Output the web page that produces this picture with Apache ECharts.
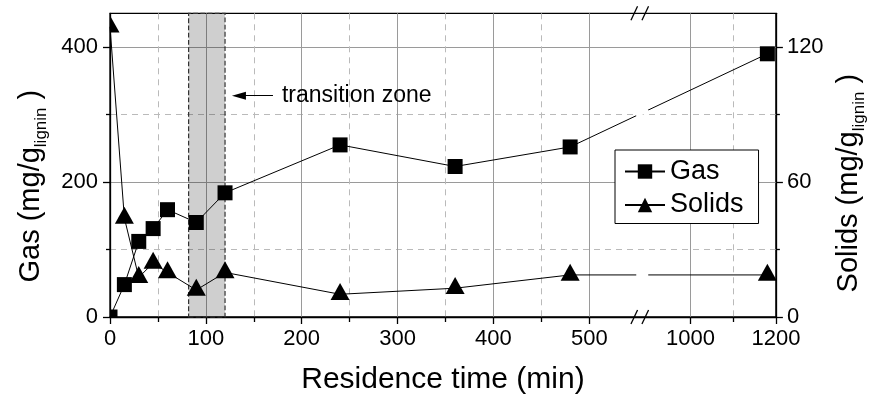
<!DOCTYPE html>
<html><head><meta charset="utf-8">
<script src="https://cdn.jsdelivr.net/npm/echarts@6/dist/echarts.min.js"></script>
<style>html,body{margin:0;padding:0;background:#fff}#c{width:876px;height:400px}</style>
</head><body><div id="c"></div>
<script>
// ---------------- data ----------------
const timeMin      = [0, 15, 30, 45, 60, 90, 120, 240, 360, 480, 1180];
const gasValues    = [0, 48, 112, 131, 159, 140, 184, 255, 223, 252, 390];
const solidsValues = [129, 44, 17.6, 24, 19.8, 12, 19.8, 10.1, 12.8, 18.7, 18.7];

const xMajorTicks      = [0, 100, 200, 300, 400, 500, 1000, 1200];
const xMinorTicks      = [50, 150, 250, 350, 450, 1100];
const gasMajorTicks    = [0, 200, 400];
const gasMinorTicks    = [100, 300];
const solidsMajorTicks = [0, 60, 120];
const solidsMinorTicks = [30, 90];

const gasRange    = [0, 450];
const solidsRange = [0, 135];
const timeRange   = [0, 1200];

const transitionZone = [82, 120];
const annotationText = 'transition zone';
const annotationFrom = [170, 328];   // (min, gas units)
const annotationTo   = [134.5, 328];

// axis break: 0..550 normal, 875..1200 compressed
const breakStart = 550, breakEnd = 875, rightScale = 0.445;

// ---------------- helpers ----------------
const T = x => x <= breakStart ? x : breakStart + (x - breakEnd) * rightScale;
const Tinv = v => v <= breakStart + 1e-6 ? v : breakEnd + (v - breakStart) / rightScale;
const FONT = '"Liberation Sans", Arial, Helvetica, sans-serif';
const xMax = T(timeRange[1]);
const GRID_SOLID = '#9a9a9a', GRID_DASH = '#bababa';

function gasData() {
  return timeMin.map((x, i) => {
    const item = { value: [T(x), gasValues[i]] };
    if (x === timeRange[0] && gasValues[i] === gasRange[0]) {
      item.symbol = 'rect'; item.symbolSize = [7.5, 7.5]; item.symbolOffset = [3.75, -3.75];
    }
    return item;
  });
}
function solidsData() {
  return timeMin.map((x, i) => {
    const item = { value: [T(x), solidsValues[i]] };
    if (x === timeRange[0]) {
      item.symbol = 'path://M0,0 L1,1 L0,1 Z'; item.symbolSize = [9.5, 17]; item.symbolOffset = [4.75, -2.8];
    }
    return item;
  });
}

const chart = echarts.init(document.getElementById('c'), null, { renderer: 'canvas' });

const tickStyle = { color: '#000', width: 1.3 };
const nameRich = {
  m: { fontSize: 29, lineHeight: 38, fontFamily: FONT, color: '#000' },
  s: { fontSize: 17, lineHeight: 17, fontFamily: FONT, color: '#000', verticalAlign: 'bottom' }
};

const option = {
  animation: false,
  backgroundColor: '#fff',
  textStyle: { fontFamily: FONT },
  grid: { left: 110, right: 99.3, top: 13.3, bottom: 80, show: true, borderColor: '#000', borderWidth: 1.3, containLabel: false },
  legend: {
    data: ['Gas', 'Solids'], orient: 'vertical', left: 615, top: 150,
    itemWidth: 40, itemHeight: 18, itemGap: 6.5,
    textStyle: { fontSize: 27, color: '#000', fontFamily: FONT },
    borderColor: '#000', borderWidth: 1, backgroundColor: '#fff', padding: [8, 15, 5, 9], borderRadius: 0
  },
  xAxis: [
    {
      type: 'value', min: 0, max: xMax, position: 'bottom',
      axisLine: { show: true, onZero: false, lineStyle: { color: '#000', width: 1.3 } },
      axisTick: { show: true, customValues: xMajorTicks.map(T), length: 7, lineStyle: tickStyle },
      axisLabel: { customValues: xMajorTicks.map(T), formatter: v => String(Math.round(Tinv(v))),
                   fontSize: 22, color: '#000', margin: 11, fontFamily: FONT },
      splitLine: { show: true, lineStyle: { color: GRID_SOLID, width: 1 } },
      name: 'Residence time (min)', nameLocation: 'middle', nameGap: 48,
      nameTextStyle: { fontSize: 30, color: '#000', fontFamily: FONT }
    },
    {
      type: 'value', min: 0, max: xMax, position: 'bottom',
      axisLine: { show: false, onZero: false },
      axisTick: { show: true, customValues: xMinorTicks.map(T), length: 5, lineStyle: tickStyle },
      axisLabel: { show: false },
      splitLine: { show: true, lineStyle: { color: GRID_DASH, width: 1, type: [6, 5] } }
    }
  ],
  yAxis: [
    {
      type: 'value', min: gasRange[0], max: gasRange[1], position: 'left',
      axisLine: { show: true, onZero: false, lineStyle: { color: '#000', width: 1.3 } },
      axisTick: { show: true, customValues: gasMajorTicks, length: 7, lineStyle: tickStyle },
      axisLabel: { customValues: gasMajorTicks, fontSize: 22, color: '#000', margin: 12, fontFamily: FONT },
      splitLine: { show: true, lineStyle: { color: GRID_SOLID, width: 1 } },
      name: '{m|Gas (mg/g}{s|lignin}{m| )}', nameLocation: 'middle', nameGap: 60,
      nameTextStyle: { rich: nameRich, padding: [0, 42, 0, 0] }
    },
    {
      type: 'value', min: solidsRange[0], max: solidsRange[1], position: 'right',
      axisLine: { show: true, onZero: false, lineStyle: { color: '#000', width: 1.3 } },
      axisTick: { show: true, customValues: solidsMajorTicks, length: 7, lineStyle: tickStyle },
      axisLabel: { customValues: solidsMajorTicks, fontSize: 22, color: '#000', margin: 11, fontFamily: FONT },
      splitLine: { show: false },
      name: '{m|Solids (mg/g}{s|lignin}{m| )}', nameLocation: 'middle', nameGap: 53,
      nameTextStyle: { rich: nameRich, padding: [0, 36, 0, 0] }
    },
    {
      type: 'value', min: gasRange[0], max: gasRange[1], position: 'left',
      axisLine: { show: false, onZero: false },
      axisTick: { show: true, customValues: gasMinorTicks, length: 4, lineStyle: tickStyle },
      axisLabel: { show: false },
      splitLine: { show: true, lineStyle: { color: GRID_DASH, width: 1, type: [6, 5] } }
    },
    {
      type: 'value', min: solidsRange[0], max: solidsRange[1], position: 'right',
      axisLine: { show: false, onZero: false },
      axisTick: { show: true, customValues: solidsMinorTicks, length: 4, lineStyle: tickStyle },
      axisLabel: { show: false },
      splitLine: { show: false }
    }
  ],
  series: [
    {
      name: 'Gas', type: 'line', xAxisIndex: 0, yAxisIndex: 0, z: 3, clip: false,
      data: gasData(), symbol: 'rect', symbolSize: 15,
      itemStyle: { color: '#000' }, lineStyle: { color: '#000', width: 1 },
      markArea: {
        silent: true,
        itemStyle: { color: 'rgba(0,0,0,0.19)', borderColor: '#333', borderWidth: 1.2, borderType: 'dashed' },
        data: [[{ xAxis: T(transitionZone[0]) }, { xAxis: T(transitionZone[1]) }]]
      },
      markLine: {
        silent: true, symbol: ['none', 'triangle'], symbolSize: [8, 14],
        lineStyle: { color: '#000', width: 1.2, type: 'solid' },
        label: { show: true, position: 'start', formatter: annotationText, fontSize: 23, color: '#000', distance: 9, fontFamily: FONT },
        data: [[{ coord: [T(annotationFrom[0]), annotationFrom[1]] }, { coord: [T(annotationTo[0]), annotationTo[1]] }]]
      }
    },
    {
      name: 'Solids', type: 'line', xAxisIndex: 0, yAxisIndex: 1, z: 3, clip: false,
      data: solidsData(), symbol: 'triangle', symbolSize: [19, 17], symbolOffset: [0, -2.8],
      itemStyle: { color: '#000' }, lineStyle: { color: '#000', width: 1 }
    }
  ]
};
chart.setOption(option);

// ---- axis-break decorations (gaps in the series lines + // marks) ----
const bx = chart.convertToPixel({ xAxisIndex: 0 }, T(breakStart));
const yTop = chart.convertToPixel({ yAxisIndex: 0 }, gasRange[1]);
const yBot = chart.convertToPixel({ yAxisIndex: 0 }, gasRange[0]);
const gx0 = bx - 1, gx1 = bx + 11;
const gfx = [];
[[0, gasValues], [1, solidsValues]].forEach(([si, vals]) => {
  const n = timeMin.length;
  const p0 = chart.convertToPixel({ seriesIndex: si }, [T(timeMin[n - 2]), vals[n - 2]]);
  const p1 = chart.convertToPixel({ seriesIndex: si }, [T(timeMin[n - 1]), vals[n - 1]]);
  const yAt = x => p0[1] + (x - p0[0]) / (p1[0] - p0[0]) * (p1[1] - p0[1]);
  gfx.push({ type: 'line', z: 50, silent: true,
    shape: { x1: gx0, y1: yAt(gx0), x2: gx1, y2: yAt(gx1) },
    style: { stroke: '#fff', lineWidth: 3.5 } });
});
[yTop, yBot].forEach(yy => {
  [bx - 3, bx + 8].forEach(cx => {
    gfx.push({ type: 'line', z: 60, silent: true,
      shape: { x1: cx - 3.3, y1: yy + 7, x2: cx + 3.3, y2: yy - 7 },
      style: { stroke: '#000', lineWidth: 1.3 } });
  });
});
chart.setOption({ graphic: gfx });
</script>
</body></html>
